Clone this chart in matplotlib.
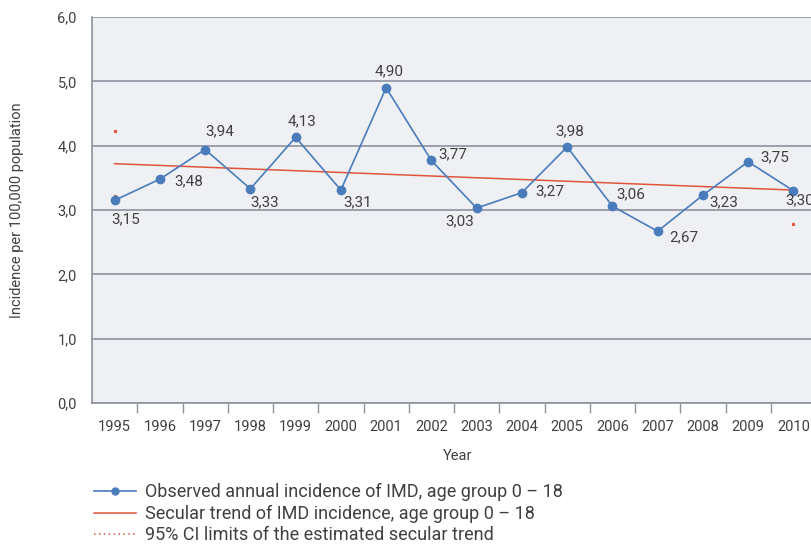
import matplotlib
matplotlib.use("Agg")
import matplotlib.pyplot as plt
from matplotlib.lines import Line2D
from matplotlib.ticker import FixedLocator

# ---------------------------------------------------
# DATA
# ---------------------------------------------------
years = list(range(1995, 2011))
incidence = [3.15, 3.48, 3.94, 3.33, 4.13, 3.31, 4.90, 3.77,
             3.03, 3.27, 3.98, 3.06, 2.67, 3.23, 3.75, 3.30]
trend_years = [1995, 2010]
trend_vals = [3.72, 3.31]
ci_years = [1995, 1995, 2010]
ci_vals = [4.23, 3.21, 2.78]
y_ticks = [0, 1, 2, 3, 4, 5, 6]

# label offsets (pixels) for the value labels
label_offsets = [(11, -19), (29, -2), (15, 18), (14, -14), (6, 16), (17, -12),
                 (3, 16), (21, 6), (-17, -13), (28, 1), (3, 16), (18, 12),
                 (26, -6), (21, -7), (27, 4), (6, -10)]

# ---------------------------------------------------
# STYLE
# ---------------------------------------------------
plt.rcParams["font.family"] = ["Roboto", "DejaVu Sans"]
text_col = "#404040"
blue = "#4a7cbc"
red = "#e0553a"
grid_col = "#8e929d"
bg_col = "#eef0f4"

fig = plt.figure(figsize=(8.12, 5.44), dpi=100)
ax = fig.add_axes([92 / 812, 141 / 544, 724 / 812, 386 / 544])
ax.set_facecolor(bg_col)

xpos = [y - 1995 for y in years]

ax.plot(xpos, incidence, color=blue, lw=1.2, marker="o", ms=6, zorder=4)
ax.plot([y - 1995 for y in trend_years], trend_vals, color=red, lw=1.1, zorder=3)
ax.plot([y - 1995 for y in ci_years], ci_vals, ls="none", marker="s", ms=1.3,
        color=red, zorder=3)

for x, v, (dx, dy) in zip(xpos, incidence, label_offsets):
    ax.annotate(f"{v:.2f}".replace(".", ","), (x, v), xytext=(dx, dy),
                textcoords="offset pixels", ha="center", va="center",
                fontsize=11, color=text_col, zorder=5)

ax.set_xlim(-0.5, 15.5)
ax.set_ylim(0, 6)

ax.set_yticks(y_ticks)
ax.set_yticklabels([f"{t:.1f}".replace(".", ",") for t in y_ticks])
ax.grid(axis="y", color=grid_col, lw=1.2)
ax.set_axisbelow(True)

ax.set_xticks(xpos)
ax.set_xticklabels([str(y) for y in years])
ax.xaxis.set_minor_locator(FixedLocator([i + 0.5 for i in range(15)]))
ax.tick_params(axis="x", which="major", length=0, pad=12, labelsize=10.5,
               labelcolor=text_col)
ax.tick_params(axis="x", which="minor", length=7.5, width=1, color=grid_col)
ax.tick_params(axis="y", length=0, pad=11, labelsize=10.5, labelcolor=text_col)

for s in ["top", "right"]:
    ax.spines[s].set_visible(False)
ax.spines["left"].set_color(grid_col)
ax.spines["bottom"].set_color(grid_col)
ax.spines["left"].set_linewidth(1.2)
ax.spines["bottom"].set_linewidth(1.2)

ax.set_xlabel("Year", fontsize=10.5, color=text_col)
ax.xaxis.set_label_coords((458 - 92) / 724, -46 / 386)
ax.set_ylabel("Incidence per 100,000 population", fontsize=10.5,
              color=text_col)
ax.yaxis.set_label_coords(-68 / 724, 0.5)

# ---------------------------------------------------
# LEGEND
# ---------------------------------------------------
handles = [
    Line2D([0], [0], color=blue, lw=1.2, marker="o", ms=5),
    Line2D([0], [0], color=red, lw=1.1),
    Line2D([0], [0], color=red, lw=1.1, ls=(0, (1, 2.2))),
]
labels = [
    "Observed annual incidence of IMD, age group 0 \u2013 18",
    "Secular trend of IMD incidence, age group 0 \u2013 18",
    "95% CI limits of the estimated secular trend",
]
fig.legend(handles, labels, loc="upper left", bbox_to_anchor=(85 / 812, 70 / 544),
           frameon=False, fontsize=13, handlelength=2.3, handletextpad=0.55,
           labelspacing=0.2, borderpad=0, labelcolor=text_col)

fig.savefig("out.png", dpi=100)
